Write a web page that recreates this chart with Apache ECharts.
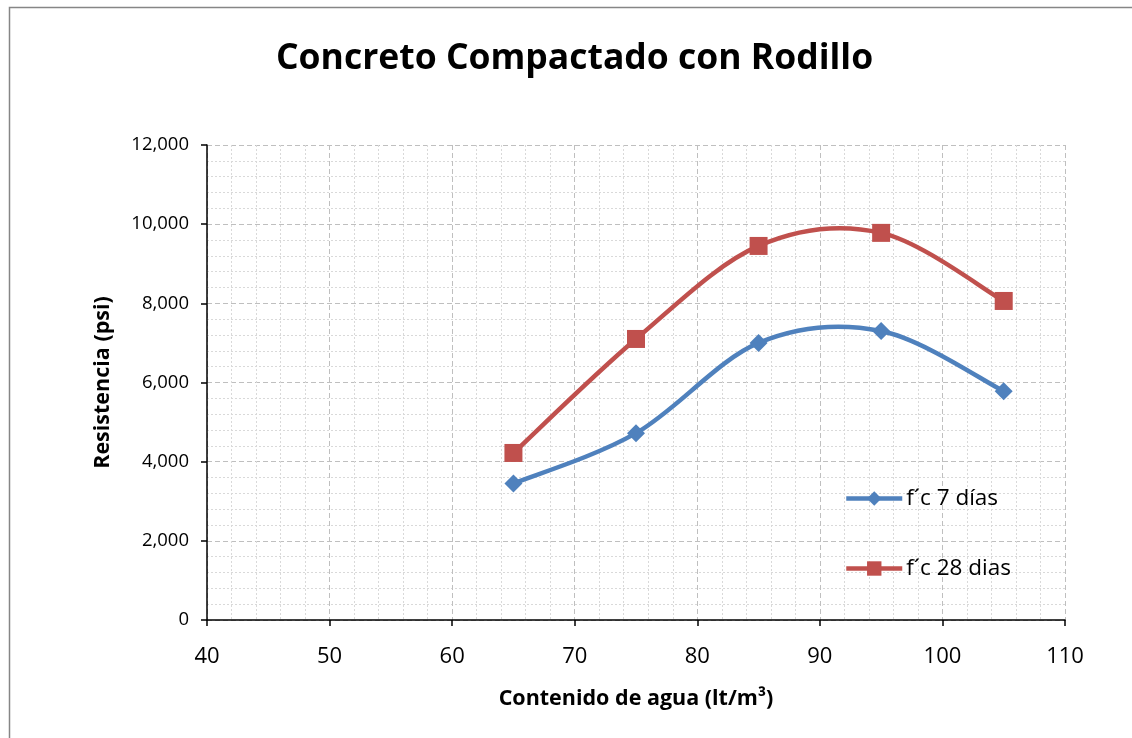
<!DOCTYPE html>
<html>
<head>
<meta charset="utf-8">
<script src="https://cdn.jsdelivr.net/npm/echarts@6/dist/echarts.min.js"></script>
<style>
html,body{margin:0;padding:0;background:#fff;}
#c{width:1132px;height:738px;}
</style>
</head>
<body>
<div id="c"></div>
<script>
const waterContent = [65, 75, 85, 95, 105];
const strength7 = [3450, 4720, 7000, 7300, 5780];
const strength28 = [4220, 7100, 9450, 9780, 8060];
const seriesNames = ['f´c 7 días', 'f´c 28 dias'];
const seriesColors = ['#4F81BD', '#C0504D'];
const titleText = 'Concreto Compactado con Rodillo';
const xAxisName = 'Contenido de agua (lt/m³)';
const yAxisName = 'Resistencia (psi)';

const FONT = '"Open Sans", Lato, sans-serif';
const chart = echarts.init(document.getElementById('c'), null, {renderer: 'canvas'});

const pairs = (xs, ys) => xs.map((x, i) => [x, ys[i]]);

// Smooth curve (Excel-like Catmull-Rom bezier) through the data, positioned via the axes' scales
function curveSeries(ys, color) {
  return {
    type: 'custom',
    coordinateSystem: 'cartesian2d',
    silent: true,
    z: 2,
    clip: false,
    data: [[waterContent[0], ys[0]]],
    renderItem: function (params, api) {
      const p = waterContent.map((x, i) => api.coord([x, ys[i]]));
      const n = p.length;
      let d = 'M' + p[0][0] + ' ' + p[0][1];
      for (let i = 0; i < n - 1; i++) {
        const p0 = p[Math.max(i - 1, 0)], p1 = p[i], p2 = p[i + 1], p3 = p[Math.min(i + 2, n - 1)];
        const c1x = p1[0] + (p2[0] - p0[0]) / 6, c1y = p1[1] + (p2[1] - p0[1]) / 6;
        const c2x = p2[0] - (p3[0] - p1[0]) / 6, c2y = p2[1] - (p3[1] - p1[1]) / 6;
        d += ' C' + c1x + ' ' + c1y + ' ' + c2x + ' ' + c2y + ' ' + p2[0] + ' ' + p2[1];
      }
      return {
        type: 'path',
        shape: {pathData: d},
        style: {fill: 'none', stroke: color, lineWidth: 4.5, lineJoin: 'round', lineCap: 'round'}
      };
    }
  };
}

chart.setOption({
  backgroundColor: '#ffffff',
  animation: false,
  title: {
    text: titleText,
    left: 271,
    top: 36,
    textStyle: {fontFamily: FONT, fontWeight: 'bold', fontSize: 35.5, color: '#000'}
  },
  graphic: [{
    type: 'rect',
    silent: true,
    shape: {x: 9.5, y: 7.5, width: 1200, height: 800},
    style: {fill: 'none', stroke: '#868686', lineWidth: 1.5}
  }],
  legend: {
    orient: 'vertical',
    left: 844,
    top: 487,
    padding: 0,
    itemGap: 47,
    itemWidth: 56,
    itemHeight: 18,
    lineStyle: {width: 4.5, opacity: 1},
    textStyle: {fontFamily: FONT, fontSize: 22.5, color: '#000', padding: [0, 0, 0, -1]},
    data: seriesNames
  },
  grid: {left: 207, right: 67, top: 145, bottom: 118, containLabel: false},
  xAxis: {
    type: 'value',
    min: 40, max: 110, interval: 10,
    name: xAxisName,
    nameLocation: 'middle',
    nameGap: 68,
    nameTextStyle: {fontFamily: FONT, fontWeight: 'bold', fontSize: 21.5, color: '#000'},
    axisLine: {show: true, onZero: false, lineStyle: {color: '#000', width: 1.5}},
    axisTick: {show: true, length: 6, lineStyle: {color: '#000', width: 1.5}},
    axisLabel: {fontFamily: FONT, fontSize: 22, color: '#000', margin: 26},
    splitLine: {show: true, lineStyle: {color: '#BFBFBF', type: [5, 3], width: 1}},
    minorTick: {show: true, splitNumber: 5, length: 0},
    minorSplitLine: {show: true, lineStyle: {color: '#D9D9D9', type: [2, 2], width: 1}}
  },
  yAxis: {
    type: 'value',
    min: 0, max: 12000, interval: 2000,
    name: yAxisName,
    nameLocation: 'middle',
    nameGap: 93,
    nameTextStyle: {fontFamily: FONT, fontWeight: 'bold', fontSize: 21.5, color: '#000'},
    axisLine: {show: true, lineStyle: {color: '#000', width: 1.5}},
    axisTick: {show: true, length: 6, lineStyle: {color: '#000', width: 1.5}},
    axisLabel: {
      fontFamily: FONT, fontSize: 18.5, color: '#000', margin: 18,
      formatter: v => v.toLocaleString('en-US')
    },
    splitLine: {show: true, lineStyle: {color: '#BFBFBF', type: [5, 3], width: 1}},
    minorTick: {show: true, splitNumber: 5, length: 0},
    minorSplitLine: {show: true, lineStyle: {color: '#D9D9D9', type: [2, 2], width: 1}}
  },
  series: [
    curveSeries(strength7, seriesColors[0]),
    curveSeries(strength28, seriesColors[1]),
    {
      name: seriesNames[0],
      type: 'line',
      z: 3,
      data: pairs(waterContent, strength7),
      symbol: 'diamond',
      symbolSize: 18,
      lineStyle: {color: seriesColors[0], width: 4.5, opacity: 0},
      itemStyle: {color: seriesColors[0]}
    },
    {
      name: seriesNames[1],
      type: 'line',
      z: 3,
      data: pairs(waterContent, strength28),
      symbol: 'rect',
      symbolSize: 18,
      lineStyle: {color: seriesColors[1], width: 4.5, opacity: 0},
      itemStyle: {color: seriesColors[1]}
    }
  ]
});
</script>
</body>
</html>
